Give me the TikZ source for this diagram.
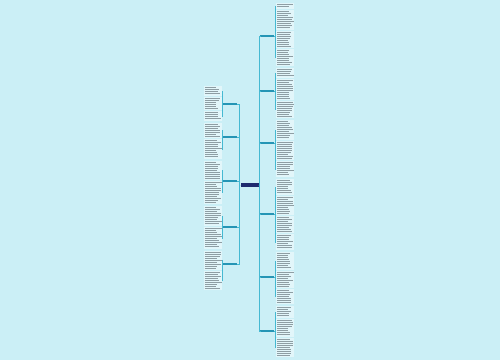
\documentclass[tikz,border=0pt]{standalone}
\usetikzlibrary{calc}
\definecolor{bg}{HTML}{CBEFF6}
\definecolor{leaf}{HTML}{E2F6FA}
\definecolor{txt}{HTML}{8E9EA4}
\definecolor{branch}{HTML}{2595B5}
\definecolor{centerc}{HTML}{1E2A6E}
\definecolor{conn}{HTML}{45B9D2}
\tikzset{
 leafbox/.style={fill=leaf, draw=none, inner sep=0pt, minimum width=18pt, anchor=north west},
 branchbox/.style={fill=branch, inner sep=0pt, minimum width=14pt, minimum height=2.5pt},
 centerbox/.style={fill=centerc, inner sep=0pt, minimum width=18pt, minimum height=4.5pt},
 link/.style={draw=conn, line width=0.6pt},
 textline/.style={draw=txt, line width=0.8pt},
}
\newcommand\leafblk[4]{%
 \pgfmathsetmacro\hh{#4-#3}%
 \node[leafbox, minimum height=\hh pt] (#1) at (#2pt,-#3pt) {};
 \pgfmathtruncatemacro\nl{floor((#4-#3-1)/2)}%
 \foreach \k in {1,...,\nl}{\pgfmathsetmacro\ll{11+6*rnd}\draw[textline] ($(#2pt,-#3pt)+(0.8pt,-\k*2pt+0.3pt)$) -- ++(\ll pt,0);}
}
\begin{document}
\begin{tikzpicture}[x=1pt,y=1pt]
\pgfmathsetseed{7}
\fill[bg] (0,0) rectangle (500,-360);
\useasboundingbox (0,0) rectangle (500,-360);
% center
\node[centerbox] (c) at (249.5,-185) {};
% right branches
\foreach \n/\y in {r1/36,r2/91,r3/143,r4/214,r5/277,r6/331}{
 \node[branchbox] (\n) at (267,-\y) {};
 \draw[link] (c.east) -- ++(0.8,0) |- (\n.west);
}
% left branches
\foreach \n/\y in {l1/104,l2/137,l3/181,l4/227,l5/264}{
 \node[branchbox] (\n) at (230,-\y) {};
 \draw[link] (c.west) -- ++(-1.2,0) |- (\n.east);
}
% right leaves
\leafblk{ra1}{276}{3}{9}\leafblk{ra2}{276}{10}{30}\leafblk{ra3}{276}{31}{48}\leafblk{ra4}{276}{49}{66}
\foreach \t in {ra1,ra2,ra3,ra4}{\draw[link] (r1.east) -- ++(1,0) |- (\t.west);}
\leafblk{rb1}{276}{68}{78}\leafblk{rb2}{276}{79}{100}\leafblk{rb3}{276}{101}{118}
\foreach \t in {rb1,rb2,rb3}{\draw[link] (r2.east) -- ++(1,0) |- (\t.west);}
\leafblk{rc1}{276}{120}{140}\leafblk{rc2}{276}{141}{160}\leafblk{rc3}{276}{161}{177}
\foreach \t in {rc1,rc2,rc3}{\draw[link] (r3.east) -- ++(1,0) |- (\t.west);}
\leafblk{rd1}{276}{179}{195}\leafblk{rd2}{276}{196}{215}\leafblk{rd3}{276}{216}{233}\leafblk{rd4}{276}{234}{250}
\foreach \t in {rd1,rd2,rd3,rd4}{\draw[link] (r4.east) -- ++(1,0) |- (\t.west);}
\leafblk{re1}{276}{252}{270}\leafblk{re2}{276}{271}{288}\leafblk{re3}{276}{289}{304}
\foreach \t in {re1,re2,re3}{\draw[link] (r5.east) -- ++(1,0) |- (\t.west);}
\leafblk{rf1}{276}{306}{318}\leafblk{rf2}{276}{319}{337}\leafblk{rf3}{276}{338}{357}
\foreach \t in {rf1,rf2,rf3}{\draw[link] (r6.east) -- ++(1,0) |- (\t.west);}
% left leaves
\leafblk{la1}{204}{86}{96}\leafblk{la2}{204}{97}{110}\leafblk{la3}{204}{111}{121}
\foreach \t in {la1,la2,la3}{\draw[link] (l1.west) -- ++(-0.5,0) |- (\t.east);}
\leafblk{lb1}{204}{123}{138}\leafblk{lb2}{204}{139}{159}
\foreach \t in {lb1,lb2}{\draw[link] (l2.west) -- ++(-0.5,0) |- (\t.east);}
\leafblk{lc1}{204}{161}{180}\leafblk{lc2}{204}{181}{204}
\foreach \t in {lc1,lc2}{\draw[link] (l3.west) -- ++(-0.5,0) |- (\t.east);}
\leafblk{ld1}{204}{206}{226}\leafblk{ld2}{204}{227}{249}
\foreach \t in {ld1,ld2}{\draw[link] (l4.west) -- ++(-0.5,0) |- (\t.east);}
\leafblk{le1}{204}{251}{270}\leafblk{le2}{204}{271}{290}
\foreach \t in {le1,le2}{\draw[link] (l5.west) -- ++(-0.5,0) |- (\t.east);}
\end{tikzpicture}
\end{document}
